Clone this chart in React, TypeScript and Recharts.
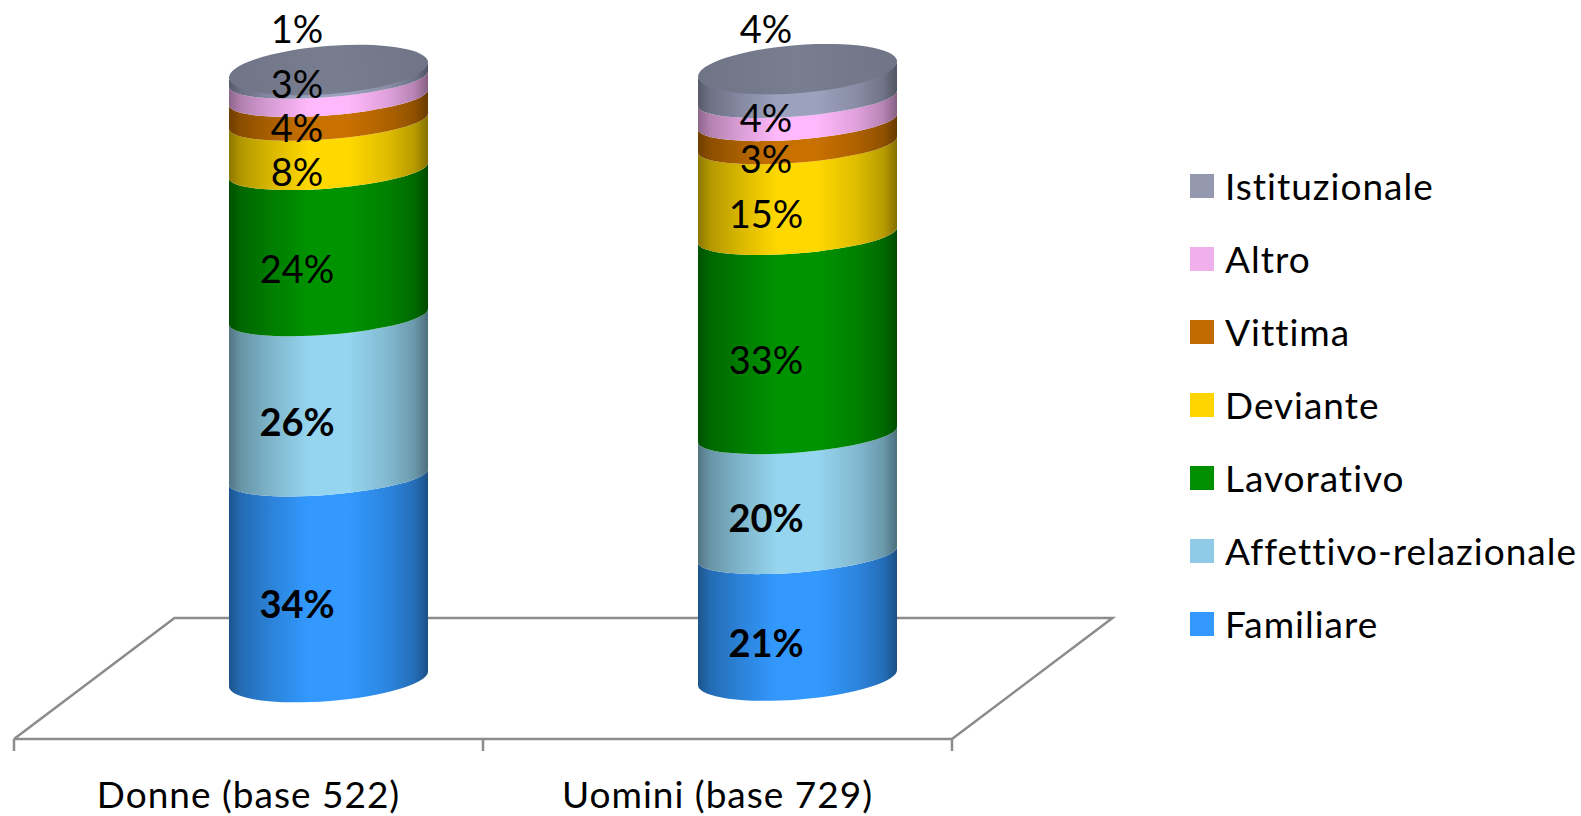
import React from 'react';
import { BarChart, Bar, XAxis, YAxis, Legend, LabelList } from 'recharts';

const categories = ['Donne (base 522)', 'Uomini (base 729)'];

const seriesNames = ['Familiare', 'Affettivo-relazionale', 'Lavorativo', 'Deviante', 'Vittima', 'Altro', 'Istituzionale'];
const seriesKeys = ['familiare', 'affettivo', 'lavorativo', 'deviante', 'vittima', 'altro', 'istituzionale'];
const seriesColors = ['#3399ff', '#95d5ef', '#009300', '#ffd800', '#c87000', '#ffb8fb', '#9ca1bd'];
const legendColors = ['#3399ff', '#8fcbe6', '#008f00', '#ffd400', '#c06a00', '#f0b0ec', '#9599b0'];

// band heights as drawn in the picture (the 3D chart does not match its labels exactly)
const familiare = [33.2, 20.2];
const affettivo = [26.3, 19.7];
const lavorativo = [24.0, 32.7];
const deviante = [8.1, 14.9];
const vittima = [3.9, 3.8];
const altro = [3.0, 3.8];
const istituzionale = [1.5, 4.8];

// printed labels
const familiareLabels = ['34%', '21%'];
const affettivoLabels = ['26%', '20%'];
const lavorativoLabels = ['24%', '33%'];
const devianteLabels = ['8%', '15%'];
const vittimaLabels = ['4%', '3%'];
const altroLabels = ['3%', '4%'];
const istituzionaleLabels = ['1%', '4%'];

const labels = [familiareLabels, affettivoLabels, lavorativoLabels, devianteLabels, vittimaLabels, altroLabels, istituzionaleLabels];
const columns = [familiare, affettivo, lavorativo, deviante, vittima, altro, istituzionale];

const data = categories.map((name, i) => {
  const row: any = { name };
  seriesKeys.forEach((k, s) => { row[k] = columns[s][i]; });
  return row;
});

const W = 1581;
const H = 816;
const FONT = 'Lato, sans-serif';
const AXIS = '#8c8c8c';
const BAND = 469;

// oblique offset of the cylinders and of the floor
const DEPTH_X = 80;
const DEPTH_Y = [-60, -61.5];
const FLOOR_X = 160.5;
const FLOOR_Y = -121;
const TILT = 8;

// label offsets from the middle of each band: [Donne, Uomini]
const labelDy = [[25.5, 26], [24.5, 23], [24.5, 24], [25.5, 23], [17.5, 25], [-5.5, 7], [-46.5, -56]];
const LABEL_DX = -31.5;

const stops: [number, number][] = [[0, 0.55], [6, 0.7], [20, 0.84], [40, 1], [60, 1], [80, 0.87], [93, 0.72], [100, 0.52]];

const shade = (hex: string, f: number) => {
  const n = parseInt(hex.slice(1), 16);
  const c = [(n >> 16) & 255, (n >> 8) & 255, n & 255].map((v) => Math.round(v * f));
  return `rgb(${c[0]},${c[1]},${c[2]})`;
};

const CylinderBand = (s: number) => (props: any) => {
  const { x, y, width, height, index } = props;
  const xl = x + DEPTH_X;
  const xr = xl + width;
  const yt = y + DEPTH_Y[index];
  const yb = yt + height;
  const a = Math.sqrt((width / 2) ** 2 + TILT ** 2);
  const rot = (Math.atan2(-TILT, width / 2) * 180) / Math.PI;
  const bottomRy = s === 0 ? 22 : 18;
  const d =
    `M${xl},${yt + TILT} A${a},18 ${rot} 0 0 ${xr},${yt - TILT} ` +
    `L${xr},${yb - TILT} A${a},${bottomRy} ${rot} 0 1 ${xl},${yb + TILT} Z`;
  // floor goes in the first band so every cylinder paints over it
  const floorL = x + width / 2 - BAND / 2;
  const floorY = y + height;
  return (
    <g>
      {s === 0 && index === 0 && (
        <path
          d={`M${floorL},${floorY} L${floorL + FLOOR_X},${floorY + FLOOR_Y} L${floorL + 2 * BAND + FLOOR_X},${floorY + FLOOR_Y} L${floorL + 2 * BAND},${floorY}`}
          stroke={AXIS}
          strokeWidth={2.5}
          fill="none"
        />
      )}
      <path d={d} fill={`url(#grad${s})`} />
      {s === seriesKeys.length - 1 && (
        <ellipse
          cx={(xl + xr) / 2}
          cy={yt}
          rx={a}
          ry={24}
          transform={`rotate(${rot} ${(xl + xr) / 2} ${yt})`}
          fill="url(#gradTop)"
        />
      )}
    </g>
  );
};

const BandLabel = (s: number) => (props: any) => {
  const { x, y, width, height, index } = props;
  return (
    <text
      x={x + DEPTH_X + width / 2 + LABEL_DX}
      y={y + DEPTH_Y[index] + height / 2 + labelDy[s][index]}
      textAnchor="middle"
      dominantBaseline="central"
      fontFamily={FONT}
      fontSize={38}
      fontWeight={s < 2 ? 700 : 400}
      fill="#000"
    >
      {labels[s][index]}
    </text>
  );
};

// category text and boundary ticks
const BoundaryTick = (props: any) => {
  const { x, y, index, payload } = props;
  const left = x - BAND / 2;
  const right = x + BAND / 2;
  const line = { stroke: AXIS, strokeWidth: 2.5, fill: 'none' };
  return (
    <g>
      {index === 0 && <line x1={left} y1={y} x2={left} y2={y + 12} {...line} />}
      <line x1={right} y1={y} x2={right} y2={y + 12} {...line} />
      <text x={x} y={y + 69} textAnchor="middle" fontFamily={FONT} fontSize={37} letterSpacing={1} fill="#000">
        {payload.value}
      </text>
    </g>
  );
};

const LegendBox = ({ payload }: any) => (
  <div style={{ fontFamily: FONT, fontSize: 37, letterSpacing: 1, color: '#000', lineHeight: '36px', whiteSpace: 'nowrap' }}>
    {[...(payload || [])].reverse().map((p: any) => (
      <div key={p.value} style={{ display: 'flex', alignItems: 'center', height: 73 }}>
        <span style={{ width: 24, height: 24, background: legendColors[seriesNames.indexOf(p.value)], marginRight: 11, flex: 'none' }} />
        <span>{p.value}</span>
      </div>
    ))}
  </div>
);

export default function App() {
  return (
    <div style={{ position: 'absolute', left: 0, top: 0, width: W, height: H }}>
      <BarChart
        width={W}
        height={H}
        data={data}
        margin={{ top: 130, right: 273, bottom: 0, left: 14 }}
        barSize={199}
      >
        <defs>
          {seriesColors.map((c, s) => (
            <linearGradient key={c} id={`grad${s}`} x1="0" y1="0" x2="1" y2="0">
              {stops.map(([o, f]) => (
                <stop key={o} offset={`${o}%`} stopColor={shade(c, f)} />
              ))}
            </linearGradient>
          ))}
          <linearGradient id="gradTop" x1="0" y1="0" x2="1" y2="0">
            <stop offset="0%" stopColor="#6f7486" />
            <stop offset="50%" stopColor="#787d90" />
            <stop offset="100%" stopColor="#6f7486" />
          </linearGradient>
        </defs>
        <XAxis
          dataKey="name"
          height={77}
          axisLine={{ stroke: AXIS, strokeWidth: 2.5 }}
          tickLine={false}
          tickSize={0}
          tickMargin={0}
          interval={0}
          padding={{ left: 0, right: 0 }}
          tick={BoundaryTick}
        />
        <YAxis hide domain={[0, 100]} />
        <Legend
          layout="vertical"
          align="right"
          verticalAlign="middle"
          width={356}
          itemSorter={null}
          content={LegendBox}
          wrapperStyle={{ left: 1190, top: 149, right: 'auto', bottom: 'auto' }}
        />
        {seriesKeys.map((k, s) => (
          <Bar
            key={k}
            dataKey={k}
            name={seriesNames[s]}
            stackId="a"
            fill={seriesColors[s]}
            shape={CylinderBand(s)}
            isAnimationActive={false}
          >
            <LabelList content={BandLabel(s)} />
          </Bar>
        ))}
      </BarChart>
    </div>
  );
}
